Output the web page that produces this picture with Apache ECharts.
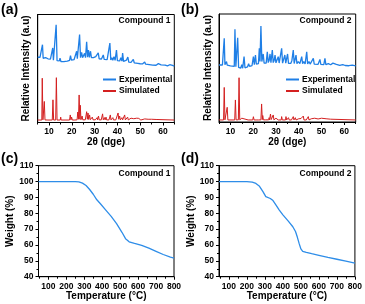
<!DOCTYPE html>
<html><head><meta charset="utf-8">
<script src="https://cdn.jsdelivr.net/npm/echarts@6/dist/echarts.min.js"></script>
<style>html,body{margin:0;padding:0;background:#fff}#c{width:365px;height:304px}</style>
</head><body><div id="c"></div>
<script>
// ---------- data ----------
const xrdTicks = [10, 20, 30, 40, 50, 60];
const xrdMinorTicks = [5, 15, 25, 35, 45, 55, 65];
const tgaTicks = [100, 200, 300, 400, 500, 600, 700, 800];
const tgaMinorTicks = [50, 150, 250, 350, 450, 550, 650, 750];
const panelLabels = ['(a)', '(b)', '(c)', '(d)'];
const compoundNames = ['Compound 1', 'Compound 2'];
const seriesNames = ['Experimental', 'Simulated'];

// (a) Compound 1 XRD, [2theta, relative intensity]
const expA = [[5,60.4],[5.6,59.4],[6,60.4],[6.5,59.2],[6.8,59.8],[7.1,72],[7.4,59.5],[8,59.2],[8.5,60],[9,58.6],[9.5,59],[10,58.2],[10.6,58.6],[11.3,57.8],[11.6,69],[11.9,57.6],[12.6,57.4],[13.1,90.5],[13.5,57.2],[14,56.8],[14.5,57],[14.8,59.5],[15.2,56.5],[15.8,57],[16.5,56.3],[17.2,57],[18,56.8],[18.6,57.8],[19,57.5],[19.4,62],[19.8,57.8],[20.4,58.6],[21,58.3],[21.5,59.3],[21.8,58.8],[22.1,66],[22.4,59],[23,59.5],[23.4,81.5],[23.8,60],[24.3,65],[24.7,60],[25.3,60],[25.6,64],[26,60],[26.5,74.8],[26.9,60.5],[27.3,67],[27.7,60.3],[28.2,66],[28.6,60],[29.2,61.5],[29.5,60],[30,59.5],[30.5,61],[31,59.3],[31.6,64.4],[32,59],[32.6,60.5],[33,58.8],[33.8,62.5],[34.2,58.5],[34.8,59.8],[35.5,58.2],[36.2,60],[36.7,73.6],[37.1,58],[37.6,60],[38,57.6],[38.5,61],[39,57.5],[39.6,67],[40,57.2],[40.5,58.5],[41,57],[41.5,60],[42,56.8],[42.3,64.4],[42.7,56.6],[43.5,56.3],[44,57.8],[44.6,60.6],[45,56],[45.6,57],[46,55.6],[47,58.5],[47.4,55.3],[48.2,56.2],[49,54.8],[50,54.4],[51,54.2],[52,56],[52.4,54],[53.2,54.8],[54,53.6],[55.5,53.2],[56.3,54],[57,53],[58,54.5],[58.4,52.8],[59.2,53.4],[60,52.6],[61,53.2],[62,52.4],[63,53.5],[63.3,52.3],[64.2,52.8],[65,52.2]];
const simA = [[5,2.3],[6.8,2.3],[7.0,41],[7.3,2.5],[7.6,2.5],[7.9,19.5],[8.2,2.4],[9.5,2.3],[9.7,3.5],[9.9,2.3],[11.4,2.3],[11.7,21],[12,2.3],[12.9,2.3],[13.2,41.5],[13.5,2.3],[14.9,2.3],[15.1,5],[15.3,2.3],[17,2.3],[17.2,3.5],[17.4,2.3],[19,2.3],[19.3,7],[19.6,2.5],[19.9,5],[20.2,2.3],[21.3,2.3],[21.5,4],[21.7,2.3],[22.3,2.5],[22.6,9.7],[22.9,3],[23.2,25.5],[23.5,3],[23.7,16],[24,2.6],[24.5,6],[24.8,2.5],[25.9,2.5],[26.2,6],[26.5,10],[26.8,3],[27.1,8.8],[27.4,2.8],[27.8,7],[28.1,2.6],[29,5],[29.3,2.5],[30,4],[30.3,2.5],[30.9,2.5],[31.1,4.5],[31.3,2.4],[31.7,6],[32,2.5],[32.6,4],[32.9,2.4],[33.5,8],[33.8,2.5],[34.3,4.5],[34.6,2.4],[35,5],[35.3,2.4],[36,3.8],[36.3,2.4],[36.6,2.4],[36.9,7],[37.2,2.4],[38,4.5],[38.3,2.4],[39,4],[39.3,2.4],[40,2.5],[40.3,8.8],[40.6,3],[41,6],[41.3,2.4],[42,4.5],[42.3,2.4],[43.2,7],[43.5,2.4],[44.5,5],[44.8,2.4],[46,4],[46.3,2.3],[47.2,3.5],[47.5,2.3],[48.5,4],[48.8,2.3],[49.4,3.8],[49.7,2.3],[50,3.5],[50.3,2.3],[52,3.3],[52.3,2.3],[53.5,3],[53.8,2.3],[55,3],[55.3,2.3],[57,2.8],[57.3,2.3],[65,2.3]];

// (b) Compound 2 XRD
const expB = [[5,52.8],[5.8,53.4],[6.5,52.8],[7,53],[7.3,77.5],[7.6,53],[8.3,56],[8.6,52.6],[9.3,53],[10,52],[10.8,52.4],[11.7,51.5],[12.0,85.8],[12.4,51.2],[12.9,51],[13.2,78],[13.6,50.5],[14.5,49.8],[15,53],[15.4,49.8],[15.7,50],[16,60.5],[16.4,50.2],[17,51.2],[17.5,51],[18,54],[18.4,51.5],[19,52.5],[19.5,52.3],[20.1,60.5],[20.5,53],[21,62],[21.4,53.5],[21.8,55],[22.3,54],[22.7,68.2],[23,56],[23.4,88.9],[23.8,56],[24.4,63],[24.8,54.5],[25.3,56],[25.7,54.5],[26.2,65],[26.6,55],[27,57],[27.4,63],[27.8,55],[28.4,66.7],[28.8,55],[29.2,57],[29.6,62],[30,54.8],[30.5,56],[31,60.5],[31.4,54.6],[32.1,54.5],[32.5,68.2],[32.9,54.5],[33.4,56],[33.9,62],[34.3,54.4],[34.7,56],[35.1,63],[35.5,54.3],[36,56],[36.5,54.2],[37,57],[37.6,66.7],[38,54.1],[38.8,62],[39.2,54],[39.8,56],[40.5,54],[41.3,60.5],[41.7,53.9],[42.2,56],[42.8,53.8],[43.5,65],[43.9,53.7],[44.5,56],[45,53.6],[45.5,55],[46.4,59],[46.8,53.5],[47.6,55],[48.5,53.4],[49.3,58],[49.7,53.3],[50.4,55],[51,53.2],[51.5,59],[51.9,53.1],[53,54],[54,53],[55,54.5],[55.4,52.8],[56.5,53.3],[58,52.5],[59.3,53.2],[60,55],[60.4,52.3],[61,53],[62,52.1],[63.5,52.6],[65,52]];
const simB = [[5,1.9],[7,1.9],[7.3,32],[7.6,2],[8.3,2],[8.6,13.6],[8.9,1.9],[11.9,1.9],[12.2,20.4],[12.5,2],[13.5,2],[13.8,41],[14.1,2],[14.8,1.9],[15,3.5],[15.2,1.9],[17.8,1.9],[18,3],[18.2,1.9],[19.8,1.9],[20.1,4.9],[20.4,1.9],[21.3,1.9],[21.5,3.2],[21.7,1.9],[22.4,1.9],[22.6,3.5],[22.8,1.9],[23.4,2],[23.7,16.7],[24,2.2],[24.2,6],[24.5,2],[25.5,2],[25.8,3.5],[26.1,2],[26.8,2],[27,4],[27.2,2],[27.3,2],[27.6,7.4],[27.9,2.2],[28.5,2],[28.8,6.5],[29.1,2],[30,3.5],[30.2,1.9],[31,1.9],[31.3,3.5],[31.6,1.9],[32.3,1.9],[32.5,5],[32.8,1.9],[33.3,3.5],[33.6,1.9],[34.2,1.9],[34.4,5],[34.7,1.9],[35.5,4],[35.8,1.9],[36.5,3],[36.8,1.9],[37.4,1.9],[37.6,5],[37.9,1.9],[38.5,4],[38.8,1.9],[40,3],[40.3,1.9],[41,3.2],[41.3,1.9],[41.8,1.9],[42,5.5],[42.3,1.9],[43,3],[43.3,1.9],[44,1.9],[44.2,5],[44.5,1.9],[45.5,3],[45.8,1.9],[47,3.5],[47.3,1.9],[48.5,2.8],[48.8,1.9],[50,3.5],[50.3,1.9],[52,3],[52.3,1.9],[54,2.6],[54.3,1.9],[65,1.9]];

// (c) Compound 1 TGA, [temperature, weight %]
const tgaC = [[45,100],[150,100],[250,100],[270,99.8],[290,99],[310,97.5],[330,95],[350,92],[370,88.5],[390,86],[420,82],[450,78],[480,73.5],[510,68],[530,64],[550,62],[580,61],[620,59.8],[660,58],[700,56],[740,54],[780,52.3],[800,51.7]];
// (d) Compound 2 TGA
const tgaD = [[45,100],[150,100],[200,100],[230,99.6],[250,98.8],[270,97],[290,93.5],[305,90.5],[315,90],[330,89.3],[345,88],[360,85.5],[380,82],[400,79],[430,75],[455,71.5],[470,68.5],[480,65],[490,61],[500,57.5],[510,56],[530,55.3],[560,54.5],[600,53.5],[650,52.2],[700,51],[750,49.8],[800,48.5]];

// ---------- styling ----------
const FONT = '"Liberation Sans", Arial, sans-serif';
const BLUE = '#1f7fe6';
const RED = '#d42020';
const TGA_BLUE = '#2e8de8';

const grids = [
  {left: 37.7, top: 14.5, width: 136.6, height: 108},
  {left: 219, top: 14, width: 136.7, height: 108},
  {left: 38.5, top: 165.7, width: 135.5, height: 111},
  {left: 219, top: 165.7, width: 136.7, height: 111}
].map(g => Object.assign({show: true, borderColor: '#000', borderWidth: 1, containLabel: false}, g));

function mainX(gi, min, max, ticks, name, nameGap) {
  return {
    gridIndex: gi, type: 'value', min, max, position: 'bottom',
    name, nameLocation: 'middle', nameGap,
    nameTextStyle: {fontFamily: FONT, fontWeight: 'bold', fontSize: 10, color: '#000'},
    axisLine: {show: true, onZero: false, lineStyle: {color: '#000', width: 1}},
    axisTick: {show: true, inside: false, length: 3, customValues: ticks, lineStyle: {color: '#000', width: 1}},
    axisLabel: {show: true, customValues: ticks, margin: 5, fontFamily: FONT, fontWeight: 'bold', fontSize: 8.5, color: '#000'},
    splitLine: {show: false}
  };
}
function minorX(gi, min, max, ticks) {
  return {
    gridIndex: gi, type: 'value', min, max, position: 'bottom',
    axisLine: {show: false},
    axisTick: {show: true, inside: false, length: 2, customValues: ticks, lineStyle: {color: '#000', width: 1}},
    axisLabel: {show: false},
    splitLine: {show: false}
  };
}
function xrdY(gi) {
  return {
    gridIndex: gi, type: 'value', min: 0, max: 100,
    name: 'Relative Intensity (a.u)', nameLocation: 'middle', nameGap: 6,
    nameTextStyle: {fontFamily: FONT, fontWeight: 'bold', fontSize: 10, color: '#000'},
    axisLine: {show: true, onZero: false, lineStyle: {color: '#000', width: 1}},
    axisTick: {show: false}, axisLabel: {show: false}, splitLine: {show: false}
  };
}
function tgaY(gi) {
  return {
    gridIndex: gi, type: 'value', min: 40, max: 110, interval: 10,
    name: 'Weight (%)', nameLocation: 'middle', nameGap: 17,
    nameTextStyle: {fontFamily: FONT, fontWeight: 'bold', fontSize: 10, color: '#000'},
    axisLine: {show: true, onZero: false, lineStyle: {color: '#000', width: 1}},
    axisTick: {show: true, inside: false, length: 3, lineStyle: {color: '#000'}},
    minorTick: {show: true, splitNumber: 2, length: 2, lineStyle: {color: '#000'}},
    axisLabel: {margin: 5, fontFamily: FONT, fontWeight: 'bold', fontSize: 8.5, color: '#000'},
    splitLine: {show: false}
  };
}

const xAxes = [
  mainX(0, 5, 65, xrdTicks, '2θ (dge)', 15), minorX(0, 5, 65, xrdMinorTicks),
  mainX(1, 5, 65, xrdTicks, '2θ (dge)', 15), minorX(1, 5, 65, xrdMinorTicks),
  mainX(2, 45, 800, tgaTicks, 'Temperature (°C)', 14), minorX(2, 45, 800, tgaMinorTicks),
  mainX(3, 45, 800, tgaTicks, 'Temperature (°C)', 14), minorX(3, 45, 800, tgaMinorTicks)
];
const yAxes = [xrdY(0), xrdY(1), tgaY(2), tgaY(3)];

function lineSeries(name, data, xi, yi, color, width) {
  return {
    name, type: 'line', data, xAxisIndex: xi, yAxisIndex: yi,
    showSymbol: false, symbol: 'none', clip: true, smooth: false,
    lineStyle: {color, width}, itemStyle: {color}, animation: false
  };
}
const series = [
  lineSeries(seriesNames[0], expA, 0, 0, BLUE, 1.3),
  lineSeries(seriesNames[1], simA, 0, 0, RED, 1),
  lineSeries(seriesNames[0], expB, 2, 1, BLUE, 1.3),
  lineSeries(seriesNames[1], simB, 2, 1, RED, 1),
  lineSeries('TGA 1', tgaC, 4, 2, TGA_BLUE, 1.3),
  lineSeries('TGA 2', tgaD, 6, 3, TGA_BLUE, 1.3)
];

function legendAt(left, top) {
  return {
    data: seriesNames, orient: 'vertical', left, top, icon: 'rect',
    itemWidth: 13, itemHeight: 2, itemGap: 1.5, padding: 0, selectedMode: false,
    textStyle: {fontFamily: FONT, fontWeight: 'bold', fontSize: 8.5, color: '#000', lineHeight: 10, padding: [0, 0, 0, -2]}
  };
}

function txt(x, y, text, size, align) {
  return {type: 'text', x, y, silent: true, style: {text, x: 0, y: 0, align: align || 'left', verticalAlign: 'middle',
    font: 'bold ' + size + 'px ' + FONT, fill: '#000'}};
}

const graphic = [
  txt(1, 10, panelLabels[0], 14), txt(181, 10, panelLabels[1], 14),
  txt(1, 159, panelLabels[2], 14), txt(181, 159, panelLabels[3], 14),
  txt(170.5, 21, compoundNames[0], 8.5, 'right'), txt(351.5, 21, compoundNames[1], 8.5, 'right'),
  txt(170.5, 173.5, compoundNames[0], 8.5, 'right'), txt(351.5, 173.5, compoundNames[1], 8.5, 'right')
];

const chart = echarts.init(document.getElementById('c'), null, {renderer: 'canvas'});
chart.setOption({
  animation: false, backgroundColor: '#fff',
  grid: grids, xAxis: xAxes, yAxis: yAxes, series,
  legend: [legendAt(103, 74.5), legendAt(286, 74.5)],
  graphic
});
</script></body></html>
